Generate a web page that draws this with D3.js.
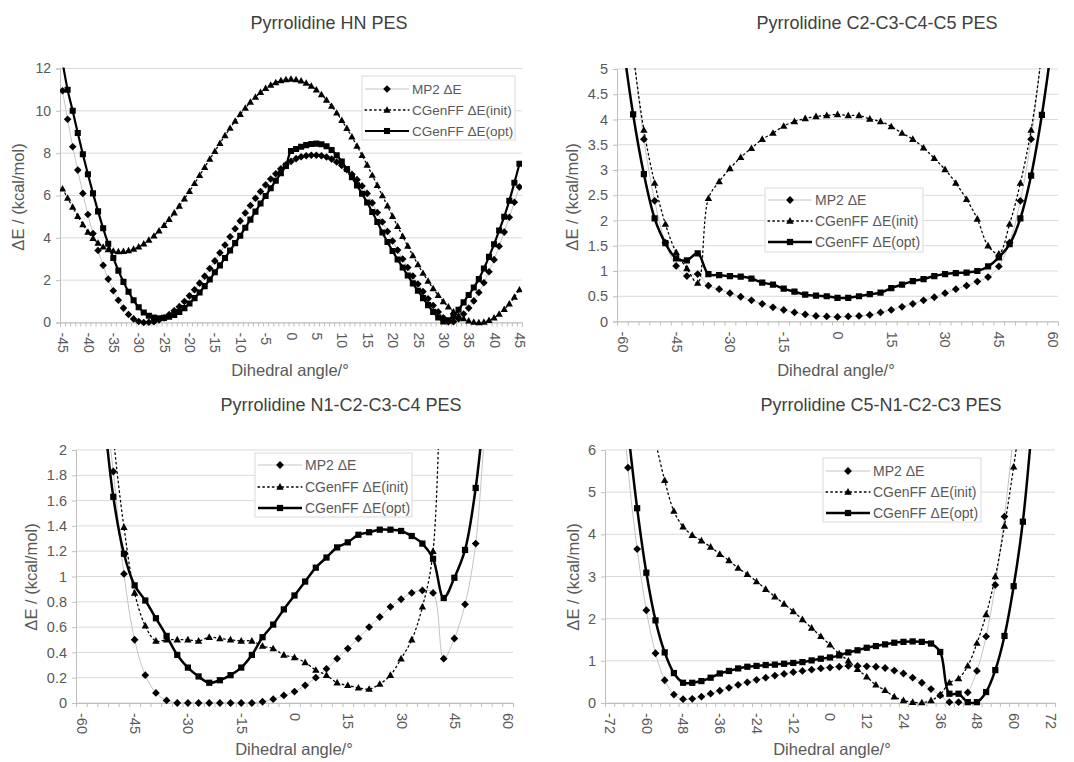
<!DOCTYPE html>
<html>
<head>
<meta charset="utf-8">
<script src="https://cdn.jsdelivr.net/npm/d3@7"></script>
<style>
  body { margin: 0; background: #fff; }
  text { font-family: "Liberation Sans", Arial, sans-serif; }
</style>
</head>
<body>
<div id="viz-container"></div>
<script>
// ---------- data ----------
let seriesNames = ["MP2 \u0394E", "CGenFF \u0394E(init)", "CGenFF \u0394E(opt)"];

// panel 1: Pyrrolidine HN PES (1 degree categories)
let p1Angles = d3.range(-45, 46, 1);
let p1XLabels = [-45, -40, -35, -30, -25, -20, -15, -10, -5, 0, 5, 10, 15, 20, 25, 30, 35, 40, 45];
let p1YTicks = [0, 2, 4, 6, 8, 10, 12];
let p1Mp2 = [10.95, 9.6, 8.3, 7.2, 6.1, 5.1, 4.2, 3.4, 2.7, 2.05,
  1.5, 1.05, 0.68, 0.38, 0.17, 0.05, 0.0, 0.01, 0.04, 0.12,
  0.22, 0.37, 0.55, 0.75, 0.99, 1.26, 1.55, 1.86, 2.19, 2.55,
  2.91, 3.29, 3.66, 4.05, 4.43, 4.8, 5.17, 5.53, 5.87, 6.19,
  6.5, 6.78, 7.03, 7.26, 7.45, 7.61, 7.74, 7.83, 7.88, 7.9,
  7.9, 7.88, 7.82, 7.72, 7.58, 7.42, 7.22, 7.0, 6.75, 6.45,
  6.1, 5.65, 5.2, 4.75, 4.3, 3.85, 3.42, 3.0, 2.6, 2.2,
  1.82, 1.46, 1.12, 0.8, 0.5, 0.22, 0.03, 0.04, 0.18, 0.4,
  0.68, 1.02, 1.42, 1.88, 2.4, 2.97, 3.6, 4.27, 4.97, 5.68,
  6.4];
let p1Init = [6.32, 5.88, 5.45, 5.02, 4.63, 4.27, 3.98, 3.75, 3.57, 3.45,
  3.38, 3.35, 3.36, 3.4, 3.47, 3.58, 3.72, 3.89, 4.09, 4.33,
  4.59, 4.87, 5.18, 5.5, 5.84, 6.2, 6.57, 6.95, 7.33, 7.72,
  8.09, 8.47, 8.83, 9.18, 9.52, 9.84, 10.13, 10.41, 10.65, 10.87,
  11.06, 11.22, 11.34, 11.43, 11.48, 11.5, 11.48, 11.42, 11.31, 11.17,
  10.99, 10.77, 10.51, 10.22, 9.9, 9.55, 9.17, 8.77, 8.34, 7.9,
  7.44, 6.96, 6.48, 5.99, 5.51, 5.02, 4.54, 4.07, 3.61, 3.16,
  2.74, 2.33, 1.96, 1.6, 1.28, 0.99, 0.74, 0.51, 0.33, 0.18,
  0.08, 0.02, 0.0, 0.02, 0.1, 0.22, 0.4, 0.62, 0.88, 1.2,
  1.55];
let p1Opt = [12.3, 11.0, 10.0, 8.95, 7.95, 7.0, 6.1, 5.25, 4.45, 3.72,
  3.05, 2.45, 1.92, 1.45, 1.05, 0.72, 0.47, 0.32, 0.24, 0.2,
  0.22, 0.27, 0.36, 0.5, 0.68, 0.9, 1.15, 1.42, 1.72, 2.03,
  2.37, 2.7, 3.05, 3.4, 3.75, 4.1, 4.48, 4.86, 5.24, 5.62,
  5.98, 6.34, 6.7, 7.05, 7.4, 8.1, 8.2, 8.3, 8.38, 8.43,
  8.45, 8.42, 8.33, 8.15, 7.9, 7.6, 7.25, 6.87, 6.48, 6.08,
  5.67, 5.22, 4.75, 4.25, 3.8, 3.38, 2.98, 2.6, 2.22, 1.85,
  1.5, 1.15, 0.82, 0.5, 0.24, 0.05, 0.1, 0.3, 0.6, 0.95,
  1.3, 1.65, 2.05, 2.55, 3.1, 3.7, 4.35, 5.0, 5.75, 6.6,
  7.5];

// panel 2: Pyrrolidine C2-C3-C4-C5 PES (3 degree categories, -60..60)
let p2Angles = d3.range(-60, 61, 3);
let p2XLabels = [-60, -45, -30, -15, 0, 15, 30, 45, 60];
let p2YTicks = [0, 0.5, 1, 1.5, 2, 2.5, 3, 3.5, 4, 4.5, 5];
let p2Mp2 = [7.5, 5.4, 3.61, 2.39, 1.56, 1.1, 0.9, 0.94, 0.71, 0.64,
  0.56, 0.49, 0.42, 0.35, 0.28, 0.23, 0.18, 0.14, 0.11, 0.1,
  0.09, 0.1, 0.11, 0.13, 0.18, 0.23, 0.29, 0.35, 0.42, 0.48,
  0.56, 0.64, 0.71, 0.79, 0.88, 1.09, 1.56, 2.39, 3.61, 5.4,
  7.5];
let p2Init = [7.0, 5.3, 3.79, 2.74, 1.93, 1.37, 1.05, 0.76, 2.44, 2.77,
  3.03, 3.25, 3.43, 3.61, 3.73, 3.87, 3.96, 4.02, 4.06, 4.08,
  4.1, 4.08, 4.08, 4.01, 3.96, 3.86, 3.73, 3.61, 3.44, 3.23,
  3.01, 2.74, 2.42, 2.03, 1.5, 1.34, 1.93, 2.74, 3.79, 5.3,
  7.0];
let p2Opt = [5.6, 4.1, 2.92, 2.04, 1.55, 1.25, 1.21, 1.35, 0.94, 0.92,
  0.9, 0.89, 0.85, 0.77, 0.73, 0.65, 0.59, 0.53, 0.51, 0.5,
  0.47, 0.47, 0.5, 0.54, 0.57, 0.66, 0.73, 0.8, 0.84, 0.9,
  0.94, 0.96, 0.97, 1.0, 1.09, 1.27, 1.53, 2.04, 2.89, 4.09,
  5.6];

// panel 3: Pyrrolidine N1-C2-C3-C4 PES (3 degree categories, -60..60)
let p3Angles = d3.range(-60, 61, 3);
let p3XLabels = [-60, -45, -30, -15, 0, 15, 30, 45, 60];
let p3YTicks = [0, 0.2, 0.4, 0.6, 0.8, 1, 1.2, 1.4, 1.6, 1.8, 2];
let p3Mp2 = [null, null, 2.5, 1.83, 1.02, 0.5, 0.22, 0.08, 0.02, 0,
  0, 0, 0, 0, 0, 0, 0, 0.01, 0.03, 0.06,
  0.09, 0.14, 0.2, 0.27, 0.35, 0.43, 0.51, 0.6, 0.68, 0.76,
  0.82, 0.87, 0.89, 0.87, 0.35, 0.51, 0.78, 1.26, 2.4, null,
  null];
let p3Init = [null, null, 3.0, 2.1, 1.39, 0.87, 0.61, 0.49, 0.5, 0.5,
  0.5, 0.49, 0.52, 0.51, 0.5, 0.49, 0.49, 0.45, 0.43, 0.38,
  0.36, 0.32, 0.26, 0.22, 0.16, 0.14, 0.12, 0.11, 0.15, 0.22,
  0.35, 0.5, 0.76, 1.2, 4.5, null, null, null, null, null,
  null];
let p3Opt = [null, null, 2.4, 1.63, 1.18, 0.93, 0.81, 0.67, 0.53, 0.38,
  0.28, 0.21, 0.16, 0.18, 0.22, 0.28, 0.38, 0.52, 0.62, 0.74,
  0.85, 0.96, 1.07, 1.15, 1.23, 1.27, 1.33, 1.35, 1.37, 1.37,
  1.36, 1.32, 1.26, 1.14, 0.83, 0.99, 1.21, 1.7, 2.5, null,
  null];

// panel 4: Pyrrolidine C5-N1-C2-C3 PES (3 degree categories, -72..72)
let p4Angles = d3.range(-72, 73, 3);
let p4XLabels = [-72, -60, -48, -36, -24, -12, 0, 12, 24, 36, 48, 60, 72];
let p4YTicks = [0, 1, 2, 3, 4, 5, 6];
let p4Mp2 = [null, 8.4, 5.58, 3.65, 2.2, 1.18, 0.54, 0.2, 0.09, 0.1,
  0.15, 0.22, 0.29, 0.36, 0.43, 0.49, 0.55, 0.6, 0.65, 0.69,
  0.73, 0.76, 0.79, 0.82, 0.84, 0.86, 0.88, 0.88, 0.87, 0.86,
  0.83, 0.77, 0.7, 0.6, 0.48, 0.33, 0.18, 0.02, 0.02, 0.25,
  0.76, 1.58, 2.8, 4.42, 6.4, null, null, null, null];
let p4Init = [null, null, null, null, null, 6.2, 5.28, 4.55, 4.18, 3.98,
  3.85, 3.7, 3.53, 3.38, 3.2, 3.05, 2.88, 2.7, 2.52, 2.35,
  2.17, 1.98, 1.78, 1.58, 1.38, 1.17, 1.0, 0.8, 0.62, 0.43,
  0.3, 0.15, 0.06, 0.02, 0.01, 0.06, 0.2, 0.48, 0.58, 0.88,
  1.42, 2.1, 3.0, 4.2, 5.6, 7.2, null, null, null];
let p4Opt = [null, null, 6.5, 4.62, 3.09, 1.96, 1.2, 0.71, 0.48, 0.48,
  0.52, 0.6, 0.7, 0.76, 0.82, 0.86, 0.88, 0.9, 0.91, 0.93,
  0.95, 0.97, 1.01, 1.05, 1.08, 1.13, 1.2, 1.25, 1.31, 1.35,
  1.39, 1.43, 1.45, 1.46, 1.45, 1.41, 1.21, 0.22, 0.22, 0.02,
  0.02, 0.26, 0.78, 1.59, 2.77, 4.3, 6.6, null, null];

// ---------- drawing ----------
let vizWidth = 1074;
let vizHeight = 762;

let viz = d3.select("#viz-container")
  .append("svg")
    .attr("width", vizWidth)
    .attr("height", vizHeight)
    .style("background-color", "white");

let gridColor = "#d9d9d9";
let axisColor = "#bfbfbf";
let textColor = "#595959";

// marker shapes, s = half size
function markerPath(kind, s) {
  if (kind == 0) return "M0," + (-s) + "L" + s + ",0L0," + s + "L" + (-s) + ",0Z";
  if (kind == 1) return "M0," + (-s) + "L" + (s * 0.95) + "," + (s * 0.7) + "L" + (-s * 0.95) + "," + (s * 0.7) + "Z";
  let q = s * 0.8;
  return "M" + (-q) + "," + (-q) + "H" + q + "V" + q + "H" + (-q) + "Z";
}

let lineStyles = [
  { stroke: "#c4c4c4", width: 1, dash: null },
  { stroke: "#000", width: 1.3, dash: "1.6,3.2" },
  { stroke: "#000", width: 2.4, dash: null }
];

let fmt = d => String(+d.toFixed(2));

function drawPanel(p, idx) {
  let g = viz.append("g");
  let half = p.step / 2;
  let x = d3.scaleLinear()
    .domain([p.angles[0] - half, p.angles[p.angles.length - 1] + half])
    .range([p.left, p.right]);
  let y = d3.scaleLinear().domain([0, p.yMax]).range([p.bottom, p.top]);

  // horizontal gridlines
  g.selectAll(".grid").data(p.yTicks).enter().append("line")
    .attr("x1", p.left).attr("x2", p.right)
    .attr("y1", d => y(d)).attr("y2", d => y(d))
    .attr("stroke", gridColor).attr("stroke-width", 1);

  // y axis
  let yAxis = g.append("g").attr("transform", "translate(" + p.left + ",0)")
    .call(d3.axisLeft(y).tickValues(p.yTicks).tickSize(4).tickPadding(5).tickFormat(fmt));
  yAxis.select(".domain").attr("stroke", axisColor);
  yAxis.selectAll(".tick line").attr("stroke", axisColor);
  yAxis.selectAll("text").attr("fill", textColor).style("font-size", p.tickFont + "px")
    .style("font-family", "'Liberation Sans', Arial, sans-serif");

  // x axis: minor ticks at every category boundary
  let bounds = p.angles.map(a => a - half).concat([p.angles[p.angles.length - 1] + half]);
  let xAxis = g.append("g").attr("transform", "translate(0," + p.bottom + ")")
    .call(d3.axisBottom(x).tickValues(bounds).tickSize(4).tickFormat(""));
  xAxis.select(".domain").attr("stroke", axisColor);
  xAxis.selectAll(".tick line").attr("stroke", axisColor);

  // rotated category labels
  let xLab = g.append("g").attr("transform", "translate(0," + p.bottom + ")")
    .call(d3.axisBottom(x).tickValues(p.xLabels).tickSize(0).tickFormat(d => d));
  xLab.select(".domain").remove();
  xLab.selectAll("text")
    .attr("transform", "rotate(90)")
    .attr("x", 10).attr("y", 0).attr("dy", "0.35em")
    .style("text-anchor", "start")
    .attr("fill", textColor).style("font-size", p.tickFont + "px")
    .style("font-family", "'Liberation Sans', Arial, sans-serif");

  // clip to plot area
  let clipId = "clip" + idx;
  viz.append("clipPath").attr("id", clipId).append("rect")
    .attr("x", p.left).attr("y", p.top - 1)
    .attr("width", p.right - p.left).attr("height", p.bottom - p.top + 6);

  let plot = g.append("g").attr("clip-path", "url(#" + clipId + ")");
  let line = d3.line()
    .defined(d => d.v != null)
    .x(d => x(d.a)).y(d => y(d.v))
    .curve(d3.curveCatmullRom.alpha(0.5));

  p.series.forEach(function(vals, k) {
    let pts = p.angles.map((a, i) => ({ a: a, v: vals[i] }));
    let st = lineStyles[k];
    plot.append("path")
      .datum(pts)
      .attr("d", line)
      .attr("fill", "none")
      .attr("stroke", st.stroke)
      .attr("stroke-width", k == 2 ? p.optWidth : st.width)
      .attr("stroke-dasharray", st.dash)
      .attr("stroke-linecap", k == 1 ? "round" : "butt");
    plot.selectAll(".m" + k).data(pts.filter(d => d.v != null)).enter().append("path")
      .attr("d", markerPath(k, p.marker))
      .attr("transform", d => "translate(" + x(d.a) + "," + y(d.v) + ")")
      .attr("fill", "#000");
  });

  // legend
  let L = p.legend;
  let lg = g.append("g");
  lg.append("rect")
    .attr("x", L.x).attr("y", L.y).attr("width", L.w).attr("height", L.h)
    .attr("fill", "white").attr("stroke", gridColor);
  seriesNames.forEach(function(name, k) {
    let ry = L.rows[k];
    let st = lineStyles[k];
    lg.append("line")
      .attr("x1", L.x + 3).attr("x2", L.x + 3 + L.sample)
      .attr("y1", ry).attr("y2", ry)
      .attr("stroke", st.stroke)
      .attr("stroke-width", k == 2 ? p.optWidth : st.width)
      .attr("stroke-dasharray", st.dash)
      .attr("stroke-linecap", k == 1 ? "round" : "butt");
    lg.append("path")
      .attr("d", markerPath(k, p.marker))
      .attr("transform", "translate(" + (L.x + 3 + L.sample / 2) + "," + ry + ")")
      .attr("fill", "#000");
    lg.append("text")
      .attr("x", L.x + 6 + L.sample).attr("y", ry).attr("dy", "0.35em")
      .attr("fill", textColor).style("font-size", p.legendFont + "px")
      .text(name);
  });

  // chart title
  g.append("text")
    .attr("x", p.title.x).attr("y", p.title.y)
    .attr("text-anchor", "middle")
    .attr("fill", "#404040").style("font-size", p.titleFont + "px")
    .text(p.title.text);

  // axis titles
  g.append("text")
    .attr("x", p.xTitle.x).attr("y", p.xTitle.y)
    .attr("text-anchor", "middle")
    .attr("fill", textColor).style("font-size", p.axisFont + "px")
    .text("Dihedral angle/\u00b0");
  g.append("text")
    .attr("transform", "translate(" + p.yTitle.x + "," + p.yTitle.y + ") rotate(-90)")
    .attr("text-anchor", "middle").attr("dy", "0.35em")
    .attr("fill", textColor).style("font-size", p.axisFont + "px")
    .text("\u0394E / (kcal/mol)");
}

let panels = [
  {
    angles: p1Angles, step: 1, xLabels: p1XLabels, yTicks: p1YTicks, yMax: 12,
    series: [p1Mp2, p1Init, p1Opt],
    left: 60, right: 522, top: 68.5, bottom: 322.5,
    marker: 3.8, optWidth: 2.2, tickFont: 14, legendFont: 13.5, titleFont: 18, axisFont: 16.5,
    title: { text: "Pyrrolidine HN PES", x: 329, y: 29 },
    xTitle: { x: 290, y: 376 }, yTitle: { x: 18, y: 197 },
    legend: { x: 362, y: 76, w: 153, h: 64, rows: [89, 110, 131], sample: 44 }
  },
  {
    angles: p2Angles, step: 3, xLabels: p2XLabels, yTicks: p2YTicks, yMax: 5,
    series: [p2Mp2, p2Init, p2Opt],
    left: 617, right: 1058, top: 69, bottom: 321.5,
    marker: 3.9, optWidth: 2.5, tickFont: 14.5, legendFont: 14, titleFont: 18, axisFont: 16.5,
    title: { text: "Pyrrolidine C2-C3-C4-C5 PES", x: 877, y: 29 },
    xTitle: { x: 836, y: 376 }, yTitle: { x: 572, y: 197 },
    legend: { x: 765, y: 188, w: 158, h: 64, rows: [200, 221, 242], sample: 44 }
  },
  {
    angles: p3Angles, step: 3, xLabels: p3XLabels, yTicks: p3YTicks, yMax: 2,
    series: [p3Mp2, p3Init, p3Opt],
    left: 76, right: 513, top: 450, bottom: 703,
    marker: 3.9, optWidth: 2.5, tickFont: 14.5, legendFont: 14, titleFont: 18, axisFont: 16.5,
    title: { text: "Pyrrolidine N1-C2-C3-C4 PES", x: 341, y: 411 },
    xTitle: { x: 294, y: 755 }, yTitle: { x: 31, y: 577 },
    legend: { x: 255, y: 453, w: 157, h: 64, rows: [465, 487, 508], sample: 44 }
  },
  {
    angles: p4Angles, step: 3, xLabels: p4XLabels, yTicks: p4YTicks, yMax: 6,
    series: [p4Mp2, p4Init, p4Opt],
    left: 605, right: 1055, top: 450, bottom: 703,
    marker: 3.9, optWidth: 2.5, tickFont: 14.5, legendFont: 14, titleFont: 18, axisFont: 16.5,
    title: { text: "Pyrrolidine C5-N1-C2-C3 PES", x: 881, y: 411 },
    xTitle: { x: 832, y: 755 }, yTitle: { x: 573, y: 577 },
    legend: { x: 823, y: 458, w: 158, h: 64, rows: [471, 492, 513], sample: 44 }
  }
];

panels.forEach(drawPanel);
</script>
</body>
</html>
